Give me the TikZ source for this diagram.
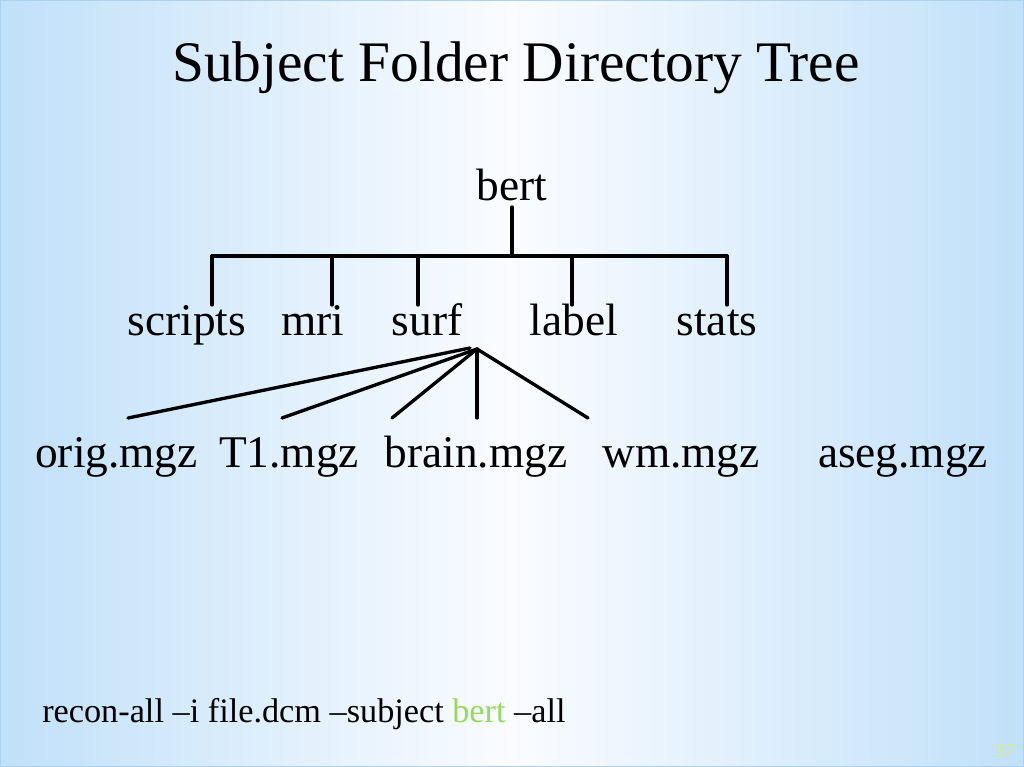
\documentclass[tikz,border=0pt]{standalone}
\usepackage{fontspec}
\setmainfont{Liberation Serif}
\definecolor{bgedge}{RGB}{192,224,249}
\definecolor{bgmid}{RGB}{250,252,255}
\definecolor{bgborder}{RGB}{170,210,240}
\definecolor{bertgreen}{RGB}{150,218,90}
\definecolor{pagenum}{RGB}{222,240,110}
\begin{document}
\begin{tikzpicture}[x=0.75pt,y=-0.75pt,
  treeline/.style={line width=2.5pt,black,line cap=round},
  folder/.style={anchor=base,inner sep=0pt,font=\fontsize{34}{40}\selectfont},
  titletext/.style={anchor=base,inner sep=0pt,font=\fontsize{43}{50}\selectfont},
  cmdtext/.style={anchor=base west,inner sep=0pt,font=\fontsize{25.7}{30}\selectfont}]
\useasboundingbox (0,0) rectangle (1024,767);
% background
\shade[left color=bgedge,right color=bgedge,middle color=bgmid] (0,0) rectangle (1024,767);
\draw[bgborder,line width=0.6pt] (0.5,0.5) rectangle (1023.5,766.5);
% title
\node[titletext] (title) at (516,82) {Subject Folder Directory Tree};
% root
\node[folder] (bert) at (512,200) {bert};
% level 1
\node[folder] (scripts) at (187,335) {scripts};
\node[folder] (mri) at (313,335) {mri};
\node[folder] (surf) at (427,335) {surf};
\node[folder] (label) at (574,335) {label};
\node[folder] (stats) at (717,335) {stats};
% level 2
\node[folder,anchor=base west] (orig) at (35,467) {orig.mgz};
\node[folder] (t1) at (289,467) {T1.mgz};
\node[folder] (brain) at (476,467) {brain.mgz};
\node[folder] (wm) at (681,467) {wm.mgz};
\node[folder] (aseg) at (903,467) {aseg.mgz};
% tree coordinates
\coordinate (stemtop) at (512,207);
\coordinate (junc) at (512,256);
\coordinate (h1) at (212,256);
\coordinate (h2) at (332,256);
\coordinate (h3) at (418,256);
\coordinate (h4) at (572,256);
\coordinate (h5) at (727,256);
\coordinate (d1) at (212,305);
\coordinate (d2) at (332,305);
\coordinate (d3) at (418,305);
\coordinate (d4) at (572,305);
\coordinate (d5) at (727,305);
\draw[treeline] (stemtop) -- (junc);
\draw[treeline] (h1) -- (h5);
\foreach \i in {1,...,5} \draw[treeline] (h\i) -- (d\i);
% fan from surf
\coordinate (apex) at (477,349);
\coordinate (apexa) at (470,348);
\coordinate (f1) at (128,418);
\coordinate (f2) at (282,418);
\coordinate (f3) at (392,418);
\coordinate (f4) at (477,418);
\coordinate (f5) at (588,418);
\draw[treeline] (apexa) -- (f1);
\draw[treeline] (apex) -- (f2);
\draw[treeline] (apex) -- (f3);
\draw[treeline] (apex) -- (f4);
\draw[treeline] (apex) -- (f5);
% command
\node[cmdtext] (cmd) at (42,722) {recon-all –i file.dcm –subject \textcolor{bertgreen}{bert} –all};
% page number
\node[anchor=base,inner sep=0pt,font=\fontsize{13}{15}\selectfont\itshape,text=pagenum] (page) at (1005,756) {57};
\end{tikzpicture}
\end{document}
